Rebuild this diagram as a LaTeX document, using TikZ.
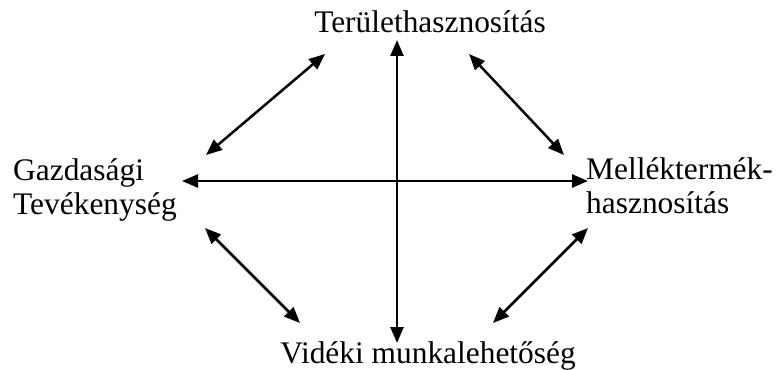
\documentclass[tikz,border=0pt]{standalone}
\usepackage{fontspec}
\setmainfont{Liberation Serif}
\usetikzlibrary{arrows.meta}
\begin{document}
\begin{tikzpicture}[x=1pt,y=-1pt,
  lbl/.style={inner sep=0pt,font={\fontsize{31.4}{34}\selectfont}},
  link/.style={line width=2.5pt,{Triangle[length=16pt,width=13pt]}-{Triangle[length=16pt,width=13pt]}}]
\useasboundingbox (0,0) rectangle (778,369);
\node[lbl,anchor=base] (top) at (430,33) {Területhasznosítás};
\node[lbl,anchor=base] (bot) at (428,363) {Vidéki munkalehetőség};
\node[lbl,align=left,anchor=north west] (left) at (13,158.5) {Gazdasági\\Tevékenység};
\node[lbl,align=left,anchor=north west] (right) at (586,157.5) {Melléktermék-\\hasznosítás};
\coordinate (vt) at (397,40);
\coordinate (vb) at (397,343);
\coordinate (hl) at (182,181);
\coordinate (hr) at (588,181);
\coordinate (ula) at (206,155);
\coordinate (ulb) at (325,54);
\coordinate (ura) at (469,54);
\coordinate (urb) at (564,155);
\coordinate (lla) at (205,228);
\coordinate (llb) at (300,323);
\coordinate (lra) at (588,228);
\coordinate (lrb) at (493,323);
\draw[link] (vt) -- (vb);
\draw[link] (hl) -- (hr);
\draw[link] (ula) -- (ulb);
\draw[link] (ura) -- (urb);
\draw[link] (lla) -- (llb);
\draw[link] (lra) -- (lrb);
\end{tikzpicture}
\end{document}
